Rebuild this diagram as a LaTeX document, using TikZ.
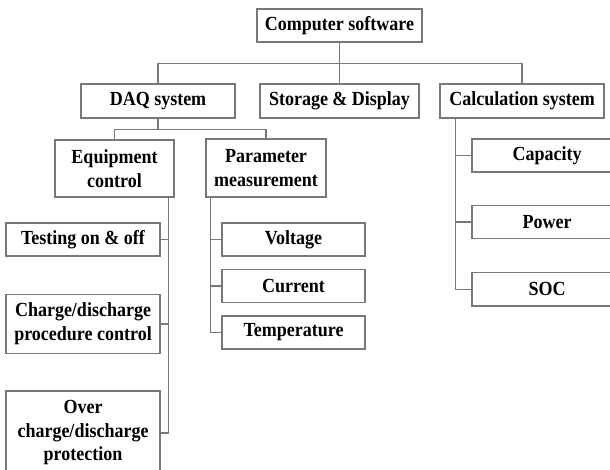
\documentclass[tikz,border=0pt]{standalone}
\usepackage{fontspec}
\setmainfont{Liberation Serif}[FakeStretch=0.9]
\usepackage{tikz}
\usetikzlibrary{positioning}

\definecolor{boxline}{RGB}{120,120,120}

\begin{document}
\begin{tikzpicture}[x=1pt,y=-1pt,
    blk/.style={draw=boxline,line width=1.4pt,inner sep=0pt,align=center,
      font=\fontsize{20}{23.5}\selectfont\bfseries},
    wire/.style={draw=boxline,line width=1.4pt}]
    \path[use as bounding box,clip] (0,0) rectangle (610,470);

    % top level
    \node[blk,minimum width=165pt,minimum height=33pt] (soft) at (339.5,25.5) {Computer software};
    \node[blk,minimum width=154pt,minimum height=34pt] (daq) at (158,101) {DAQ system};
    \node[blk,minimum width=159pt,minimum height=34pt] (store) at (339.5,101) {Storage \& Display};
    \node[blk,minimum width=164pt,minimum height=34pt] (calc) at (522,101) {Calculation system};

    % DAQ branch
    \node[blk,minimum width=119pt,minimum height=57pt] (equip) at (114.5,168.5) {Equipment\\control};
    \node[blk,minimum width=120pt,minimum height=58pt] (param) at (266,168) {Parameter\\measurement};

    \node[blk,minimum width=154pt,minimum height=33pt] (test) at (83,239.5) {Testing on \& off};
    \node[blk,minimum width=154pt,minimum height=59pt] (proc) [below=37pt of test] {Charge/discharge\\procedure control};
    \node[blk,minimum width=154pt,minimum height=84pt] (over) [below=36pt of proc] {Over\\charge/discharge\\protection};

    \node[blk,minimum width=143pt,minimum height=33pt] (volt) at (293.5,239.5) {Voltage};
    \node[blk,minimum width=143pt,minimum height=33pt] (curr) [below=12pt of volt] {Current};
    \node[blk,minimum width=143pt,minimum height=33pt] (temp) [below=12pt of curr] {Temperature};

    % calculation branch
    \node[blk,minimum width=150pt,minimum height=33pt] (cap) at (547,155.5) {Capacity};
    \node[blk,minimum width=150pt,minimum height=33pt] (pow) [below=32pt of cap] {Power};
    \node[blk,minimum width=150pt,minimum height=33pt] (soc) [below=33pt of pow] {SOC};

    % connectors
    \draw[wire] (soft.south) -- ++(0,21) coordinate (bus);
    \draw[wire] (bus) -| (daq.north);
    \draw[wire] (bus) -| (calc.north);
    \draw[wire] (bus) -- (store.north);

    \draw[wire] (daq.south) -- ++(0,11) coordinate (sub);
    \draw[wire] (sub) -| (equip.north);
    \draw[wire] (sub) -| (param.north);

    \coordinate (etrunk) at ([xshift=-6pt]equip.south east);
    \draw[wire] (etrunk) |- (test.east);
    \draw[wire] (etrunk) |- (proc.east);
    \draw[wire] (etrunk) |- (over.east);

    \coordinate (ptrunk) at ([xshift=5pt]param.south west);
    \draw[wire] (ptrunk) |- (volt.west);
    \draw[wire] (ptrunk) |- (curr.west);
    \draw[wire] (ptrunk) |- (temp.west);

    \coordinate (ctrunk) at ([xshift=16pt]calc.south west);
    \draw[wire] (ctrunk) |- (cap.west);
    \draw[wire] (ctrunk) |- (pow.west);
    \draw[wire] (ctrunk) |- (soc.west);
\end{tikzpicture}
\end{document}
